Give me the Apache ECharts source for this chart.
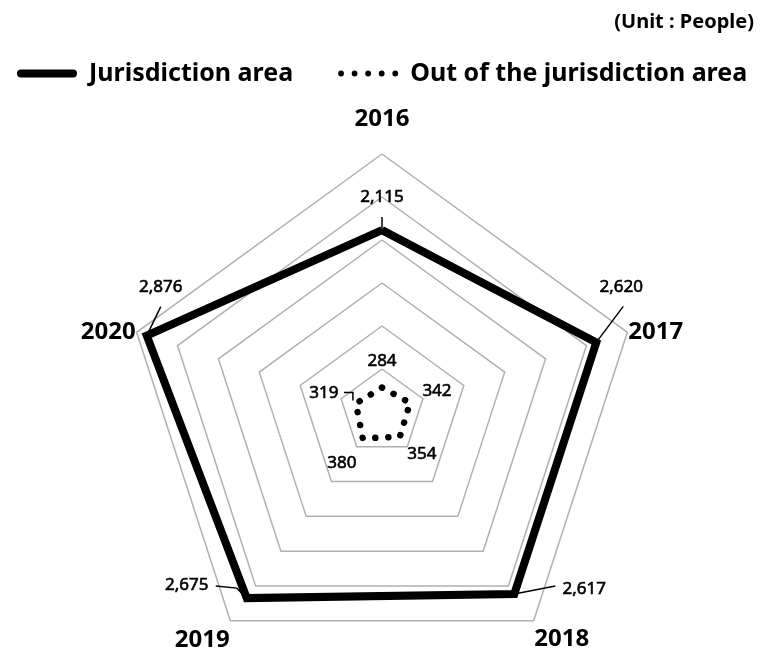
<!DOCTYPE html>
<html><head><meta charset="utf-8">
<script src="https://cdn.jsdelivr.net/npm/echarts@6/dist/echarts.min.js"></script>
<style>html,body{margin:0;padding:0;background:#fff}#c{width:761px;height:653px}</style>
</head><body><div id="c"></div>
<script>
const years = ['2016', '2017', '2018', '2019', '2020'];
const jurisdiction = [2115, 2620, 2617, 2675, 2876];
const outside = [284, 342, 354, 380, 319];
const seriesNames = ['Jurisdiction area', 'Out of the jurisdiction area'];
const axisMax = 3000;
const unitText = '(Unit : People)';

const FONT = "'Noto Sans', sans-serif";
// ECharts radar places indicators counter-clockwise; reorder so years run clockwise
const order = [0, 4, 3, 2, 1];
const reorder = arr => order.map(i => arr[i]);
const fmt = v => v.toLocaleString('en-US');
const nameBase = {color: '#000', fontFamily: FONT, fontWeight: 'bold', fontSize: 24};

const chart = echarts.init(document.getElementById('c'));
chart.setOption({
  animation: false,
  backgroundColor: '#fff',
  title: {
    text: unitText, right: 2, top: 7,
    textStyle: {fontFamily: FONT, fontWeight: 'bold', fontSize: 20, color: '#000'}
  },
  legend: {
    left: 12, top: 56, itemWidth: 60, itemHeight: 8, itemGap: 45,
    data: [
      {name: seriesNames[0], icon: 'path://M4,0H56A4,4 0 0 1 56,8H4A4,4 0 0 1 4,0Z'},
      {name: seriesNames[1], icon: 'path://M0,3a3,3 0 1,0 6,0a3,3 0 1,0 -6,0zM14,3a3,3 0 1,0 6,0a3,3 0 1,0 -6,0zM28,3a3,3 0 1,0 6,0a3,3 0 1,0 -6,0zM42,3a3,3 0 1,0 6,0a3,3 0 1,0 -6,0zM56,3a3,3 0 1,0 6,0a3,3 0 1,0 -6,0z'}
    ],
    itemStyle: {color: '#000', borderWidth: 0},
    textStyle: {fontFamily: FONT, fontWeight: 'bold', fontSize: 25, color: '#000', padding: [0, 0, 0, 7]}
  },
  radar: {
    center: [382, 412], radius: 258, startAngle: 90, splitNumber: 6, shape: 'polygon',
    indicator: order.map(i => ({name: years[i], min: 0, max: axisMax})),
    axisName: {
      ...nameBase,
      formatter: n => {
        const k = years.indexOf(n);
        return '{p' + k + '|' + n + '}';
      },
      rich: {
        p0: {...nameBase, padding: [0, 0, 22, 0]},
        p1: {...nameBase, padding: [0, 0, 0, 0]},
        p2: {...nameBase, padding: [36, 0, 0, 0]},
        p3: {...nameBase, padding: [38, 0, 0, 0]},
        p4: {...nameBase, padding: [0, 0, 0, 0]}
      }
    },
    axisNameGap: 1,
    splitLine: {lineStyle: {color: '#b0b0b0', width: 1.5}},
    splitArea: {show: false},
    axisLine: {show: false},
    axisTick: {show: false},
    axisLabel: {show: false}
  },
  series: [{
    type: 'radar', symbol: 'none', silent: true,
    data: [
      {name: seriesNames[0], value: reorder(jurisdiction),
       itemStyle: {color: '#000'},
       lineStyle: {color: '#000', width: 8, join: 'miter', type: 'solid'}},
      {name: seriesNames[1], value: reorder(outside),
       itemStyle: {color: '#000'},
       lineStyle: {color: '#000', width: 6.5, type: [0.1, 13], cap: 'round'}}
    ]
  }]
});

// value labels with leader lines, positioned from the radar's own scale
const cs = chart.getModel().getComponent('radar').coordinateSystem;
const pt = (v, yi) => cs.dataToPoint(v, order.indexOf(yi));
const outerLab = [
  {line: [[0, 0], [0, -13]], lab: [0, -33]},
  {line: [[0, 0], [27, -36]], lab: [25, -55]},
  {line: [[0, 0], [41, -8]], lab: [70, -5]},
  {line: [[0, 0], [-10, -10], [-31, -12]], lab: [-60, -13]},
  {line: [[0, 0], [14, -29]], lab: [14, -48]}
];
const innerLab = [
  {lab: [0, -26]},
  {lab: [27, -12]},
  {lab: [22, 18]},
  {lab: [-21, 25]},
  {line: [[-3, -3], [-3, -11], [-12, -11]], lab: [-32, -10]}
];
const g = [];
const addLab = (v, yi, spec) => {
  const p = pt(v, yi);
  if (spec.line) {
    g.push({type: 'polyline', silent: true,
      shape: {points: spec.line.map(d => [p[0] + d[0], p[1] + d[1]])},
      style: {stroke: '#000', lineWidth: 1.5, fill: null}});
  }
  g.push({type: 'text', silent: true, x: p[0] + spec.lab[0], y: p[1] + spec.lab[1],
    style: {text: fmt(v), fill: '#000', stroke: '#000', lineWidth: 0.6,
      font: "normal 17px " + FONT, align: 'center', verticalAlign: 'middle'}});
};
years.forEach((y, i) => {
  addLab(jurisdiction[i], i, outerLab[i]);
  addLab(outside[i], i, innerLab[i]);
});
chart.setOption({graphic: g});
</script>
</body></html>
